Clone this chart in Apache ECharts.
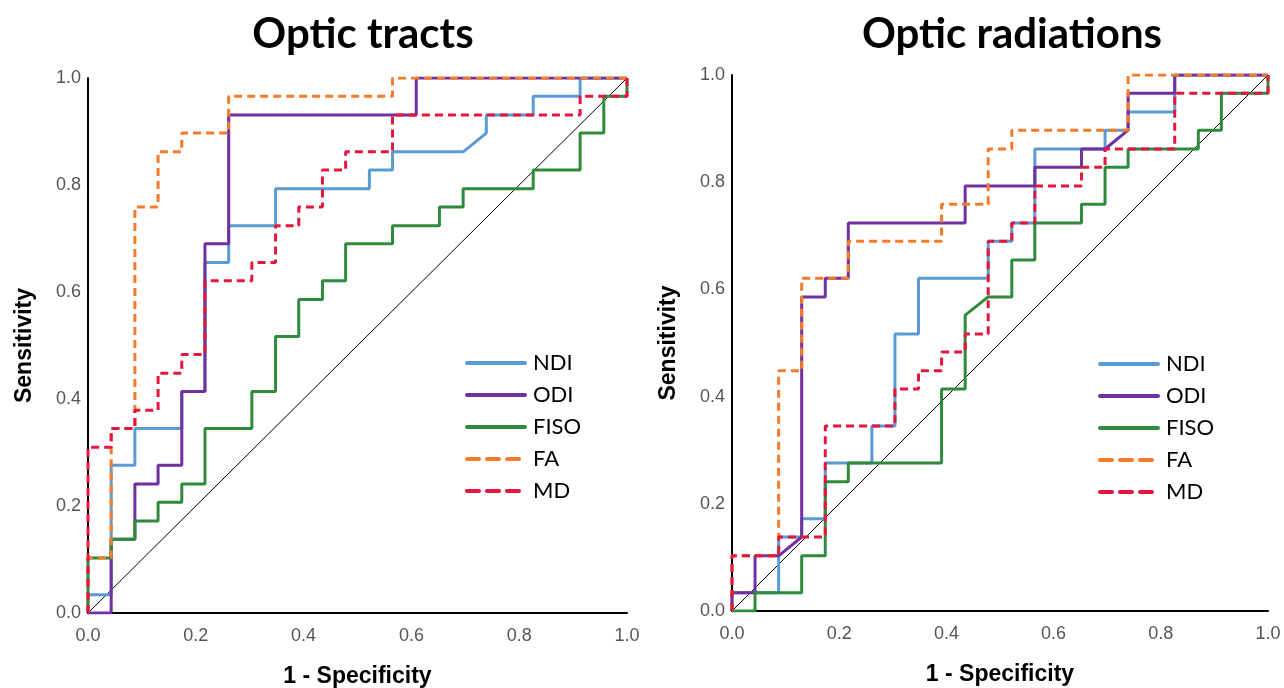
<!DOCTYPE html>
<html><head><meta charset="utf-8">
<script src="https://cdn.jsdelivr.net/npm/echarts@6/dist/echarts.min.js"></script>
<style>html,body{margin:0;padding:0;background:#fff}#c{width:1284px;height:688px}</style>
</head><body><div id="c"></div>
<script>
// Tick labels
var ticks = [0, 0.2, 0.4, 0.6, 0.8, 1.0];
var seriesNames = ['NDI', 'ODI', 'FISO', 'FA', 'MD'];
var titles = ['Optic tracts', 'Optic radiations'];
var diagonal = [[0, 0], [1, 1]];

// Optic tracts: [1 - specificity, sensitivity]
var ot_ndi = [[0,0],[0,0.034],[0.043,0.034],[0.043,0.276],[0.087,0.276],[0.087,0.345],[0.174,0.345],[0.174,0.414],[0.217,0.414],[0.217,0.655],[0.261,0.655],[0.261,0.724],[0.348,0.724],[0.348,0.793],[0.522,0.793],[0.522,0.828],[0.565,0.828],[0.565,0.862],[0.696,0.862],[0.739,0.897],[0.739,0.931],[0.826,0.931],[0.826,0.966],[0.913,0.966],[0.913,1],[1,1]];
var ot_odi = [[0,0],[0.043,0],[0.043,0.138],[0.087,0.138],[0.087,0.241],[0.13,0.241],[0.13,0.276],[0.174,0.276],[0.174,0.414],[0.217,0.414],[0.217,0.69],[0.261,0.69],[0.261,0.931],[0.609,0.931],[0.609,1],[1,1]];
var ot_fiso = [[0,0],[0,0.103],[0.043,0.103],[0.043,0.138],[0.087,0.138],[0.087,0.172],[0.13,0.172],[0.13,0.207],[0.174,0.207],[0.174,0.241],[0.217,0.241],[0.217,0.345],[0.304,0.345],[0.304,0.414],[0.348,0.414],[0.348,0.517],[0.391,0.517],[0.391,0.586],[0.435,0.586],[0.435,0.621],[0.478,0.621],[0.478,0.69],[0.565,0.69],[0.565,0.724],[0.652,0.724],[0.652,0.759],[0.696,0.759],[0.696,0.793],[0.826,0.793],[0.826,0.828],[0.913,0.828],[0.913,0.897],[0.957,0.897],[0.957,0.966],[1,0.966],[1,1]];
var ot_fa = [[0,0],[0,0.103],[0.043,0.103],[0.043,0.345],[0.087,0.345],[0.087,0.759],[0.13,0.759],[0.13,0.862],[0.174,0.862],[0.174,0.897],[0.261,0.897],[0.261,0.966],[0.565,0.966],[0.565,1],[1,1]];
var ot_md = [[0,0],[0,0.31],[0.043,0.31],[0.043,0.345],[0.087,0.345],[0.087,0.379],[0.13,0.379],[0.13,0.448],[0.174,0.448],[0.174,0.483],[0.217,0.483],[0.217,0.621],[0.304,0.621],[0.304,0.655],[0.348,0.655],[0.348,0.724],[0.391,0.724],[0.391,0.759],[0.435,0.759],[0.435,0.828],[0.478,0.828],[0.478,0.862],[0.565,0.862],[0.565,0.931],[0.913,0.931],[0.913,0.966],[1,0.966],[1,1]];

// Optic radiations
var or_ndi = [[0,0],[0,0.034],[0.087,0.034],[0.087,0.138],[0.13,0.138],[0.13,0.172],[0.174,0.172],[0.174,0.276],[0.261,0.276],[0.261,0.345],[0.304,0.345],[0.304,0.517],[0.348,0.517],[0.348,0.621],[0.478,0.621],[0.478,0.69],[0.522,0.69],[0.522,0.724],[0.565,0.724],[0.565,0.862],[0.696,0.862],[0.696,0.897],[0.739,0.897],[0.739,0.931],[0.826,0.931],[0.826,1],[1,1]];
var or_odi = [[0,0],[0,0.034],[0.043,0.034],[0.043,0.103],[0.087,0.103],[0.13,0.138],[0.13,0.586],[0.174,0.586],[0.174,0.621],[0.217,0.621],[0.217,0.724],[0.435,0.724],[0.435,0.793],[0.565,0.793],[0.565,0.828],[0.652,0.828],[0.652,0.862],[0.696,0.862],[0.739,0.897],[0.739,0.966],[0.826,0.966],[0.826,1],[1,1]];
var or_fiso = [[0,0],[0.043,0],[0.043,0.034],[0.13,0.034],[0.13,0.103],[0.174,0.103],[0.174,0.241],[0.217,0.241],[0.217,0.276],[0.391,0.276],[0.391,0.414],[0.435,0.414],[0.435,0.552],[0.478,0.586],[0.522,0.586],[0.522,0.655],[0.565,0.655],[0.565,0.724],[0.652,0.724],[0.652,0.759],[0.696,0.759],[0.696,0.828],[0.739,0.828],[0.739,0.862],[0.87,0.862],[0.87,0.897],[0.913,0.897],[0.913,0.966],[1,0.966],[1,1]];
var or_fa = [[0,0],[0,0.103],[0.087,0.103],[0.087,0.448],[0.13,0.448],[0.13,0.621],[0.217,0.621],[0.217,0.69],[0.391,0.69],[0.391,0.759],[0.478,0.759],[0.478,0.862],[0.522,0.862],[0.522,0.897],[0.739,0.897],[0.739,1],[1,1]];
var or_md = [[0,0],[0,0.103],[0.087,0.103],[0.087,0.138],[0.174,0.138],[0.174,0.345],[0.304,0.345],[0.304,0.414],[0.348,0.414],[0.348,0.448],[0.391,0.448],[0.391,0.483],[0.435,0.483],[0.435,0.517],[0.478,0.517],[0.478,0.69],[0.522,0.69],[0.522,0.724],[0.565,0.724],[0.565,0.793],[0.652,0.793],[0.652,0.828],[0.696,0.828],[0.696,0.862],[0.826,0.862],[0.826,0.966],[1,0.966],[1,1]];

var panels = [
  [ot_ndi, ot_odi, ot_fiso, ot_fa, ot_md],
  [or_ndi, or_odi, or_fiso, or_fa, or_md]
];

var colors = ['#5B9BD5', '#7030A0', '#2E8B3C', '#F47B2A', '#E3173E'];
var dashed = [false, false, false, true, true];

var grids = [
  {left: 88, right: 657, top: 78, bottom: 75, outerBoundsMode: 'none', containLabel: false},
  {left: 732, right: 16, top: 75, bottom: 77, outerBoundsMode: 'none', containLabel: false}
];

var labelStyle = {color: '#555', fontSize: 18, fontFamily: 'Liberation Sans'};
var nameStyle = {color: '#000', fontSize: 23, fontWeight: 'bold', fontFamily: 'Liberation Sans'};

function xAx(i) {
  return {gridIndex: i, type: 'value', min: 0, max: 1, interval: 0.2,
    name: '1 - Specificity', nameLocation: 'middle', nameGap: 52, nameTextStyle: nameStyle,
    axisLine: {show: true, lineStyle: {color: '#000', width: 2}}, axisTick: {show: false},
    splitLine: {show: false},
    axisLabel: Object.assign({margin: 14, formatter: function (v) { return v.toFixed(1); }}, labelStyle)};
}
function yAx(i) {
  return {gridIndex: i, type: 'value', min: 0, max: 1, interval: 0.2,
    name: 'Sensitivity', nameLocation: 'middle', nameGap: 52, nameTextStyle: nameStyle,
    axisLine: {show: true, lineStyle: {color: '#000', width: 2}}, axisTick: {show: false},
    splitLine: {show: false},
    axisLabel: Object.assign({margin: 7, formatter: function (v) { return v.toFixed(1); }}, labelStyle)};
}

var series = [];
panels.forEach(function (sets, p) {
  series.push({type: 'line', xAxisIndex: p, yAxisIndex: p, data: diagonal, showSymbol: false, silent: true,
    lineStyle: {color: '#000', width: 1}, z: 1});
  sets.forEach(function (d, k) {
    series.push({name: seriesNames[k], type: 'line', xAxisIndex: p, yAxisIndex: p, data: d,
      showSymbol: false, symbol: 'none', color: colors[k], z: 2 + k,
      lineStyle: {color: colors[k], width: 3, type: dashed[k] ? [8, 5] : 'solid'}});
  });
});

var legendData = seriesNames.map(function (n, k) {
  return {name: n, lineStyle: {width: 4, type: dashed[k] ? [12, 8] : 'solid', cap: 'round'}};
});
var legendBase = {orient: 'vertical', itemWidth: 58, itemHeight: 14, itemGap: 10,
  itemStyle: {opacity: 0},
  textStyle: {fontSize: 22, fontFamily: 'Lato', color: '#000', padding: [0, 0, 0, 3]}, data: legendData,
  selectedMode: false};

var titleStyle = {fontSize: 42, fontWeight: 'bold', fontFamily: 'Lato', color: '#000'};
var chart = echarts.init(document.getElementById('c'));
chart.setOption({
  animation: false,
  title: [
    {text: titles[0], left: 358, top: 8, textAlign: 'center', textStyle: titleStyle},
    {text: titles[1], left: 1007, top: 8, textAlign: 'center', textStyle: titleStyle}
  ],
  grid: grids,
  xAxis: [xAx(0), xAx(1)],
  yAxis: [yAx(0), yAx(1)],
  legend: [
    Object.assign({}, legendBase, {left: 460, top: 347}),
    Object.assign({}, legendBase, {left: 1093, top: 348})
  ],
  series: series
});
</script></body></html>
